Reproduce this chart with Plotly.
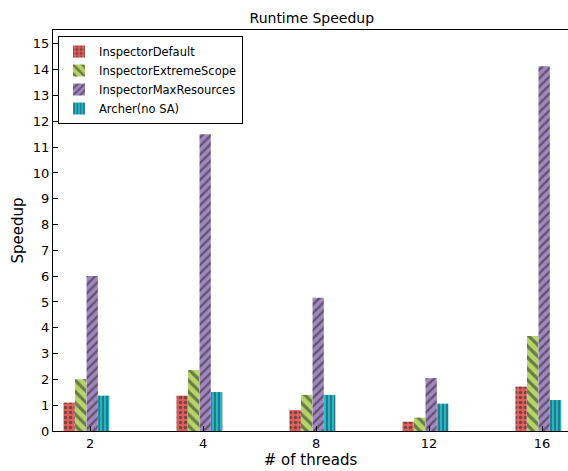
import plotly.graph_objects as go

categories = ["2", "4", "8", "12", "16"]
inspector_default = [1.10, 1.37, 0.81, 0.36, 1.72]
inspector_extreme = [2.01, 2.36, 1.40, 0.52, 3.68]
inspector_maxres = [6.01, 11.50, 5.16, 2.05, 14.14]
archer_nosa = [1.37, 1.51, 1.40, 1.06, 1.20]

series = [
    ("InspectorDefault", inspector_default, "#dc605c", ".", 5),
    ("InspectorExtremeScope", inspector_extreme, "#b5d56b", "\\", 8),
    ("InspectorMaxResources", inspector_maxres, "#a287c0", "/", 6),
    ("Archer(no SA)", archer_nosa, "#22b6c6", "|", 4),
]

pos = list(range(len(categories)))
width = 0.1
offsets = [-0.235, -0.133, -0.031, 0.071]

fig = go.Figure()
for (name, vals, color, shape, size), off in zip(series, offsets):
    fig.add_trace(go.Bar(
        x=pos, y=vals, name=name, width=width, offset=off,
        marker=dict(color=color, line=dict(width=0),
                    pattern=dict(shape=shape, fgcolor="#222222", bgcolor=color,
                                 size=size, solidity=0.4, fillmode="overlay")),
    ))

font = "DejaVu Sans"
fig.update_layout(
    width=568, height=471,
    margin=dict(l=53, r=0, t=30, b=40),
    paper_bgcolor="white", plot_bgcolor="white",
    barmode="overlay",
    font=dict(family=font, color="black"),
    title=dict(text="Runtime Speedup", x=0.549, xanchor="center", y=0.962, yanchor="middle",
               font=dict(size=14, family=font)),
    xaxis=dict(range=[-0.328, 4.23], tickvals=pos, ticktext=categories,
               showline=True, linecolor="black", linewidth=1.3, mirror=True,
               ticks="inside", ticklen=5, tickcolor="black", showgrid=False, zeroline=False,
               tickfont=dict(size=13),
               title=dict(text="# of threads", font=dict(size=15), standoff=4)),
    yaxis=dict(range=[0, 15.54], dtick=1, showline=True, linecolor="black", linewidth=1.3,
               mirror=False, ticks="inside", ticklen=5, tickcolor="black",
               showgrid=False, zeroline=False, tickfont=dict(size=13),
               title=dict(text="Speedup", font=dict(size=15), standoff=5)),
    legend=dict(x=0.0097, y=0.985, xanchor="left", yanchor="top",
                bgcolor="white", bordercolor="black", borderwidth=1,
                font=dict(size=11.5, family=font), tracegroupgap=0, itemwidth=30),
    showlegend=True,
)

fig.write_html("out.html", config={"displayModeBar": False},
               post_script="document.body.style.margin='0';document.body.style.overflow='hidden';")
